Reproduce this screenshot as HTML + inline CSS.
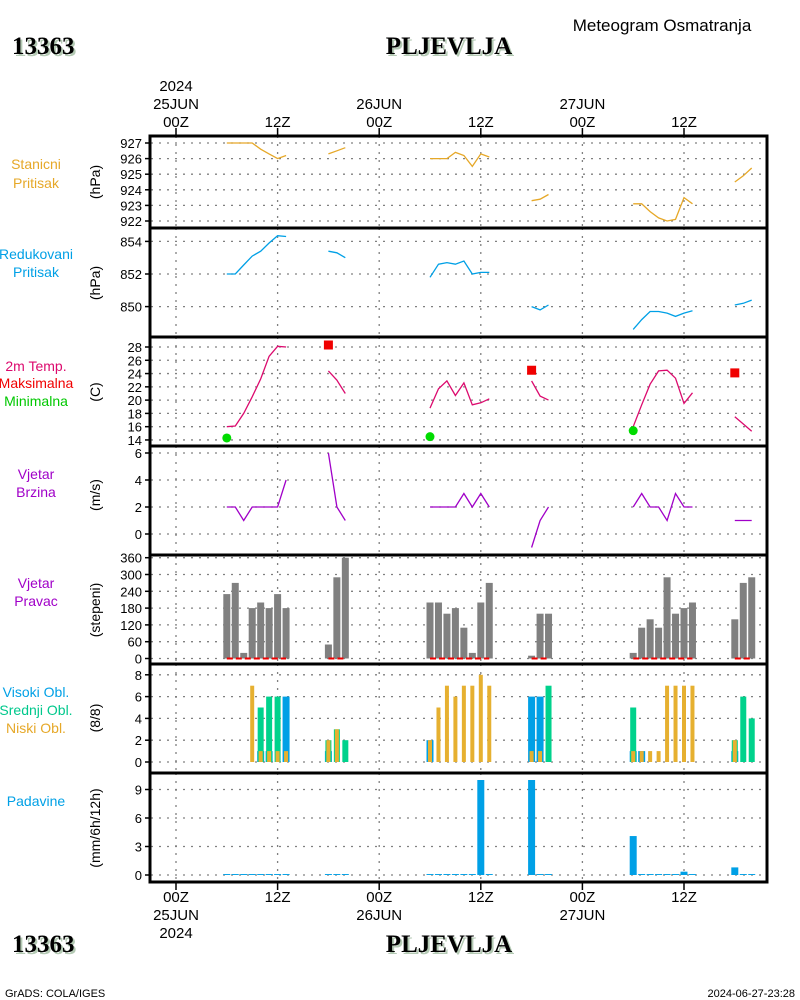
<!DOCTYPE html>
<html><head><meta charset="utf-8">
<style>
html,body{margin:0;padding:0;background:#fff;}
svg{display:block;}
text{font-family:"Liberation Sans",sans-serif;}
.tk{font-size:13px;fill:#000;}
.ser{font-family:"Liberation Serif",serif;font-weight:bold;font-size:25px;}
</style></head>
<body>
<svg id="chart" width="800" height="1000" viewBox="0 0 800 1000" xmlns="http://www.w3.org/2000/svg">
  <text x="662" y="31" text-anchor="middle" style="font-size:17px">Meteogram Osmatranja</text>
  <text class="ser" x="14" y="56" fill="#b4cab4">13363</text>
  <text class="ser" x="12" y="54" fill="#000">13363</text>
  <text class="ser" x="451" y="56" text-anchor="middle" fill="#b4cab4">PLJEVLJA</text>
  <text class="ser" x="449" y="54" text-anchor="middle" fill="#000">PLJEVLJA</text>
  <text class="ser" x="14" y="954" fill="#b4cab4">13363</text>
  <text class="ser" x="12" y="952" fill="#000">13363</text>
  <text class="ser" x="451" y="954" text-anchor="middle" fill="#b4cab4">PLJEVLJA</text>
  <text class="ser" x="449" y="952" text-anchor="middle" fill="#000">PLJEVLJA</text>
  <text x="5" y="997" style="font-size:11px">GrADS: COLA/IGES</text>
  <text x="795" y="997" text-anchor="end" style="font-size:11px">2024-06-27-23:28</text>
  <g id="g"></g>
</svg>
<script>
const hours = [6,7,8,9,10,11,12,13, 18,19,20, 30,31,32,33,34,35,36,37, 42,43,44, 54,55,56,57,58,59,60,61, 66,67,68];
const pStation = [927,927,927,927,926.6,926.3,926.0,926.2, 926.3,926.5,926.7, 926,926,926,926.4,926.2,925.5,926.3,926.1, 923.3,923.4,923.7, 923.1,923.1,922.6,922.2,922.0,922.1,923.5,923.1, 924.5,924.9,925.4];
const pReduced = [852,852,852.55,853.1,853.4,853.9,854.35,854.3, 853.4,853.3,853.0, 851.8,852.6,852.7,852.6,852.8,852.0,852.1,852.1, 850.0,849.8,850.1, 848.6,849.2,849.7,849.7,849.6,849.4,849.6,849.75, 850.1,850.2,850.4];
const temp = [16.0,16.1,18.0,20.5,23.2,26.6,28.1,28.0, 24.4,23,21, 18.8,21.7,22.9,20.7,22.6,19.3,19.6,20.2, 22.9,20.6,20, 16.0,19.3,22.4,24.4,24.5,23.3,19.5,21.1, 17.5,16.4,15.3];
const tmaxHours = [18,42,66];
const tmaxVals = [28.3,24.5,24.1];
const tminHours = [6,30,54];
const tminVals = [14.3,14.5,15.4];
const windSpeed = [2,2,1,2,2,2,2,4, 6,2,1, 2,2,2,2,3,2,3,2, -1,1,2, 2,3,2,2,1,3,2,2, 1,1,1];
const windDir = [230,270,20,180,200,180,230,180, 50,290,360, 200,200,160,180,110,20,200,270, 10,160,160, 20,110,140,110,290,160,180,200, 140,270,290];
const cloudHigh = [0,0,0,0,1,1,0,6, 1,0,0, 2,0,0,0,0,0,0,0, 6,6,0, 1,1,0,0,0,0,0,0, 1,0,0];
const cloudMid = [0,0,0,0,5,6,6,0, 2,3,2, 0,0,0,0,0,0,0,0, 0,0,7, 5,0,0,0,0,0,0,0, 2,6,4];
const cloudLow = [0,0,0,7,1,1,1,1, 2,3,0, 2,5,7,6,7,7,8,7, 1,1,0, 1,1,1,1,7,7,7,7, 2,0,0];
const precip = [0.1,0.1,0.1,0.1,0.1,0.1,0.1,0.1, 0.1,0.1,0.1, 0.1,0.1,0.1,0.1,0.1,0.1,10,0.1, 10,0.1,0.1, 4.1,0.1,0.1,0.1,0.1,0.1,0.35,0.1, 0.8,0.1,0.1];
const ticksP1 = [927,926,925,924,923,922];
const ticksP2 = [854,852,850];
const ticksP3 = [28,26,24,22,20,18,16,14];
const ticksP4 = [6,4,2,0];
const ticksP5 = [360,300,240,180,120,60,0];
const ticksP6 = [8,6,4,2,0];
const ticksP7 = [9,6,3,0];
const timeHours = [0,12,24,36,48,60];
const timeLabels = ["00Z","12Z","00Z","12Z","00Z","12Z"];
const dayLabels = ["25JUN","","26JUN","","27JUN",""];

const NS="http://www.w3.org/2000/svg";
const G=document.getElementById('g');
function el(tag,attrs,parent){const e=document.createElementNS(NS,tag);for(const k in attrs)e.setAttribute(k,attrs[k]);(parent||G).appendChild(e);return e;}
const X=h=>176+h*101.6/12;
const L=151,R=766;
const panels=[
 {top:136,bot:228,y:v=>143+(927-v)*15.6,ticks:ticksP1,name:'station-pressure'},
 {top:228,bot:337,y:v=>274-(v-852)*16.3,ticks:ticksP2,name:'reduced-pressure'},
 {top:337,bot:446,y:v=>347+(28-v)*6.64,ticks:ticksP3,name:'temperature'},
 {top:446,bot:555,y:v=>534-v*13.5,ticks:ticksP4,name:'wind-speed'},
 {top:555,bot:664,y:v=>658.5-v*0.28,ticks:ticksP5,name:'wind-direction'},
 {top:664,bot:773,y:v=>762-v*10.9,ticks:ticksP6,name:'cloud-cover'},
 {top:773,bot:882,y:v=>875-v*9.5,ticks:ticksP7,name:'precipitation'}
];
panels.forEach(p=>{
  const pg=el('g',{});
  
  
  p.g=pg;
  p.ticks.forEach(t=>{
    const yy=p.y(t);
    const gl=el('line',{x1:L,x2:R,y1:yy,y2:yy,stroke:'#808080','stroke-width':1.3,'stroke-dasharray':'2,6'},pg);
    
    
    const tm=el('line',{x1:145,x2:L,y1:yy,y2:yy,stroke:'#000','stroke-width':1.5},pg);
    
    
    const tx=el('text',{x:142,y:yy+5,'text-anchor':'end',class:'tk'},pg);
    tx.textContent=t;
    
    
  });
  timeHours.forEach(h=>{
    const vl=el('line',{x1:X(h),x2:X(h),y1:p.top,y2:p.bot,stroke:'#808080','stroke-width':1.3,'stroke-dasharray':'2,6'},pg);
    
    
  });
});
function line(p,vals,color,name){
  let seg=[];
  const segs=[];
  hours.forEach((h,i)=>{
    if(i>0&&h-hours[i-1]>1){segs.push(seg);seg=[];}
    if(vals[i]!=null)seg.push(X(h).toFixed(1)+','+p.y(vals[i]).toFixed(1));
  });
  segs.push(seg);
  segs.forEach(s=>{
    const pl=el('polyline',{points:s.join(' '),fill:'none',stroke:color,'stroke-width':1.3},p.g);
    
    
  });
}
function bars(p,vals,color,w,name){
  hours.forEach((h,i)=>{
    const v=vals[i]; if(!v) return;
    const y0=p.y(0),y1=p.y(v);
    const r=el('rect',{x:X(h)-w/2,y:Math.min(y0,y1),width:w,height:Math.abs(y0-y1),fill:color},p.g);
    
    
  });
}
line(panels[0],pStation,'#e6a828','station-pressure-line');
line(panels[1],pReduced,'#00a0e6','reduced-pressure-line');
line(panels[2],temp,'#dc0a6e','temperature-line');
tmaxHours.forEach((h,i)=>{
  const r=el('rect',{x:X(h)-4.5,y:panels[2].y(tmaxVals[i])-4.5,width:9,height:9,fill:'#f00000'},panels[2].g);
  
  
});
tminHours.forEach((h,i)=>{
  const c=el('circle',{cx:X(h),cy:panels[2].y(tminVals[i]),r:4.5,fill:'#00dc00'},panels[2].g);
  
  
});
line(panels[3],windSpeed,'#a000c8','wind-speed-line');
bars(panels[4],windDir,'#808080',7,'wind-direction-bar');
{
  let s=0;
  for(let i=1;i<=hours.length;i++){
    if(i===hours.length||hours[i]-hours[i-1]>1){
      const d=el('line',{x1:X(hours[s]),x2:X(hours[i-1]),y1:panels[4].y(0),y2:panels[4].y(0),stroke:'#f00000','stroke-width':2,'stroke-dasharray':'6,3'},panels[4].g);
      
      
      s=i;
    }
  }
}
bars(panels[5],cloudHigh,'#00a0e6',7,'high-cloud-bar');
bars(panels[5],cloudMid,'#00d28c',6,'mid-cloud-bar');
bars(panels[5],cloudLow,'#e6b030',4,'low-cloud-bar');
bars(panels[6],precip,'#00a0e6',7,'precip-bar');

panels.forEach(p=>{
  const f=el('rect',{x:L-1,y:p.top,width:R-L+2,height:p.bot-p.top,fill:'none',stroke:'#000','stroke-width':3});
  
  
});
timeHours.forEach((h,i)=>{
  const x=X(h);
  const t1=el('line',{x1:x,x2:x,y1:128,y2:136,stroke:'#000','stroke-width':1.5});
  
  
  const t2=el('line',{x1:x,x2:x,y1:882,y2:890,stroke:'#000','stroke-width':1.5});
  
  
  const a=el('text',{x:x,y:127,'text-anchor':'middle',class:'tk',style:'font-size:15px'});
  a.textContent=timeLabels[i];
  
  
  const b=el('text',{x:x,y:902,'text-anchor':'middle',class:'tk',style:'font-size:15px'});
  b.textContent=timeLabels[i];
  
  
  if(dayLabels[i]){
    const c=el('text',{x:x,y:109,'text-anchor':'middle',class:'tk',style:'font-size:15px'});
    c.textContent=dayLabels[i];
    
    
    const d=el('text',{x:x,y:920,'text-anchor':'middle',class:'tk',style:'font-size:15px'});
    d.textContent=dayLabels[i];
    
    
  }
});
[[91,'top-year-label'],[938,'bottom-year-label']].forEach(([y,n])=>{
  const t=el('text',{x:X(0),y:y,'text-anchor':'middle',class:'tk',style:'font-size:15px'});
  t.textContent='2024';
  
  
});
const leftLabels=[
 ['Stanicni',169,'#e6a828'],['Pritisak',188,'#e6a828'],
 ['Redukovani',259,'#00a0e6'],['Pritisak',277,'#00a0e6'],
 ['2m Temp.',371,'#dc0a6e'],['Maksimalna',388,'#f00000'],['Minimalna',406,'#00c800'],
 ['Vjetar',479,'#a000c8'],['Brzina',497,'#a000c8'],
 ['Vjetar',588,'#a000c8'],['Pravac',606,'#a000c8'],
 ['Visoki Obl.',697,'#00a0e6'],['Srednji Obl.',715,'#00c88c'],['Niski Obl.',733,'#e6a828'],
 ['Padavine',806,'#00a0e6']
];
leftLabels.forEach(([s,y,c])=>{
  const t=el('text',{x:36,y:y,'text-anchor':'middle',fill:c,style:'font-size:14px'});
  t.textContent=s;
  
  
});
const units=[['(hPa)',182],['(hPa)',283],['(C)',392],['(m/s)',495],['(stepeni)',610],['(8/8)',718],['(mm/6h/12h)',828]];
units.forEach(([s,y])=>{
  const t=el('text',{x:100,y:y,'text-anchor':'middle',transform:'rotate(-90 100 '+y+')',style:'font-size:14px'});
  t.textContent=s;
  
  
});
</script>
</body></html>
